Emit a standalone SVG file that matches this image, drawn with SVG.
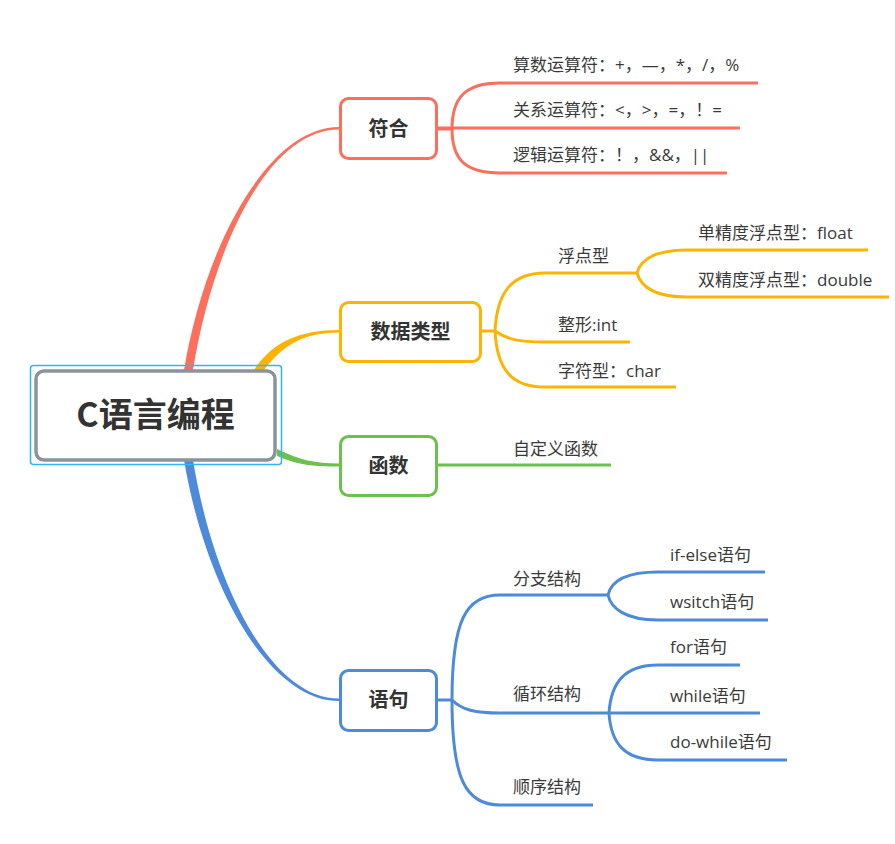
<svg xmlns="http://www.w3.org/2000/svg" width="895" height="844" viewBox="0 0 895 844">
<style>
.t{font-family:"Open Sans","Noto Sans CJK SC",sans-serif;font-size:17px;fill:#3a3a3a}
.n{font-family:"Noto Sans CJK SC",sans-serif;font-size:20px;font-weight:bold;fill:#333;text-anchor:middle}
.l{fill:none;stroke-width:3;stroke-linecap:butt}
.r{stroke:#fd6f5c}.y{stroke:#feb300}.g{stroke:#6cc14c}.b{stroke:#4d8ad9}
.box{fill:#fff;stroke-width:3}
</style>
<rect width="895" height="844" fill="#fff"/>
<g id="connectors">
<path d="M184,370 C206,240 270,127 339,127 L339,129.5 C270,129.5 214,242 193,370 Z" fill="#fd6f5c"/>
<path d="M254,370 C272,342 300,330 339,330 L339,332.5 C303,332.5 282,346 264,370 Z" fill="#feb300"/>
<path d="M277,449 C300,460 315,463.5 339,463.5 L339,466.5 C313,466.5 298,465 277,456 Z" fill="#6cc14c"/>
<path d="M184,460 C206,590 270,701 339,701 L339,698.5 C272,698.5 214,588 193,460 Z" fill="#4d8ad9"/>
<g class="l r">
<path d="M437,129 L452,129 C452,97 466,83 500,83 L758,83"/>
<path d="M437,128 L740,128"/>
<path d="M452,129 C452,160 466,173 500,173 L727,173"/>
</g>
<g class="l y">
<path d="M481,331 L495,331 C497,292 512,273 545,273 L637,273"/>
<path d="M495,331 C508,340 520,342 545,342 L630,342"/>
<path d="M495,331 C497,370 512,387 545,387 L676,387"/>
<path d="M637,273 C641,259 655,250 687,250 L868,250"/>
<path d="M637,273 C641,287 655,297 687,297 L889,297"/>
</g>
<g class="l g">
<path d="M436,465 L611,465"/>
</g>
<g class="l b">
<path d="M436,700 L452,700 C452,620 466,595 500,595 L608,595"/>
<path d="M452,700 C462,710 475,713 500,713 L760,713"/>
<path d="M452,700 C452,780 466,805 500,805 L593,805"/>
<path d="M608,595 C611,582 625,572 658,572 L765,572"/>
<path d="M608,595 C611,608 625,620 658,620 L768,620"/>
<path d="M609,713 C611,682 625,665 658,665 L740,665"/>
<path d="M609,713 C611,744 625,760 658,760 L787,760"/>
</g>
</g>
<g id="root">
<rect x="30.5" y="365.5" width="251" height="99" rx="3" fill="none" stroke="#2bb8fa" stroke-width="1.5"/>
<rect x="36" y="371" width="239" height="89" rx="8" fill="#fff" stroke="#8c939d" stroke-width="3.5"/>
<text x="155.5" y="427" font-family="'Noto Sans CJK SC',sans-serif" font-size="34" font-weight="bold" fill="#333" text-anchor="middle">C语言编程</text>
</g>
<g id="node-fuhe">
<rect class="box r" x="340.5" y="98.5" width="96" height="60" rx="8"/>
<text class="n" x="388.5" y="136">符合</text>
</g>
<g id="node-shujuleixing">
<rect class="box y" x="340.5" y="302.5" width="140" height="59" rx="8"/>
<text class="n" x="410.5" y="339">数据类型</text>
</g>
<g id="node-hanshu">
<rect class="box g" x="340.5" y="436.5" width="96" height="59" rx="8"/>
<text class="n" x="388.5" y="473">函数</text>
</g>
<g id="node-yuju">
<rect class="box b" x="340.5" y="670.5" width="96" height="60" rx="8"/>
<text class="n" x="388.5" y="707">语句</text>
</g>
<g id="labels">
<text class="t" x="513" y="71">算数运算符：+，—，*，/，%</text>
<text class="t" x="513" y="116">关系运算符：&lt;，&gt;，=，！=</text>
<text class="t" x="513" y="161">逻辑运算符：！，&amp;&amp;，||</text>
<text class="t" x="558" y="262">浮点型</text>
<text class="t" x="698" y="239">单精度浮点型：float</text>
<text class="t" x="698" y="286">双精度浮点型：double</text>
<text class="t" x="558" y="331">整形:int</text>
<text class="t" x="558" y="377">字符型：char</text>
<text class="t" x="513" y="455">自定义函数</text>
<text class="t" x="513" y="585">分支结构</text>
<text class="t" x="670" y="561">if-else语句</text>
<text class="t" x="670" y="608">wsitch语句</text>
<text class="t" x="513" y="700">循环结构</text>
<text class="t" x="670" y="653">for语句</text>
<text class="t" x="670" y="702">while语句</text>
<text class="t" x="670" y="748">do-while语句</text>
<text class="t" x="513" y="793">顺序结构</text>
</g>
</svg>
